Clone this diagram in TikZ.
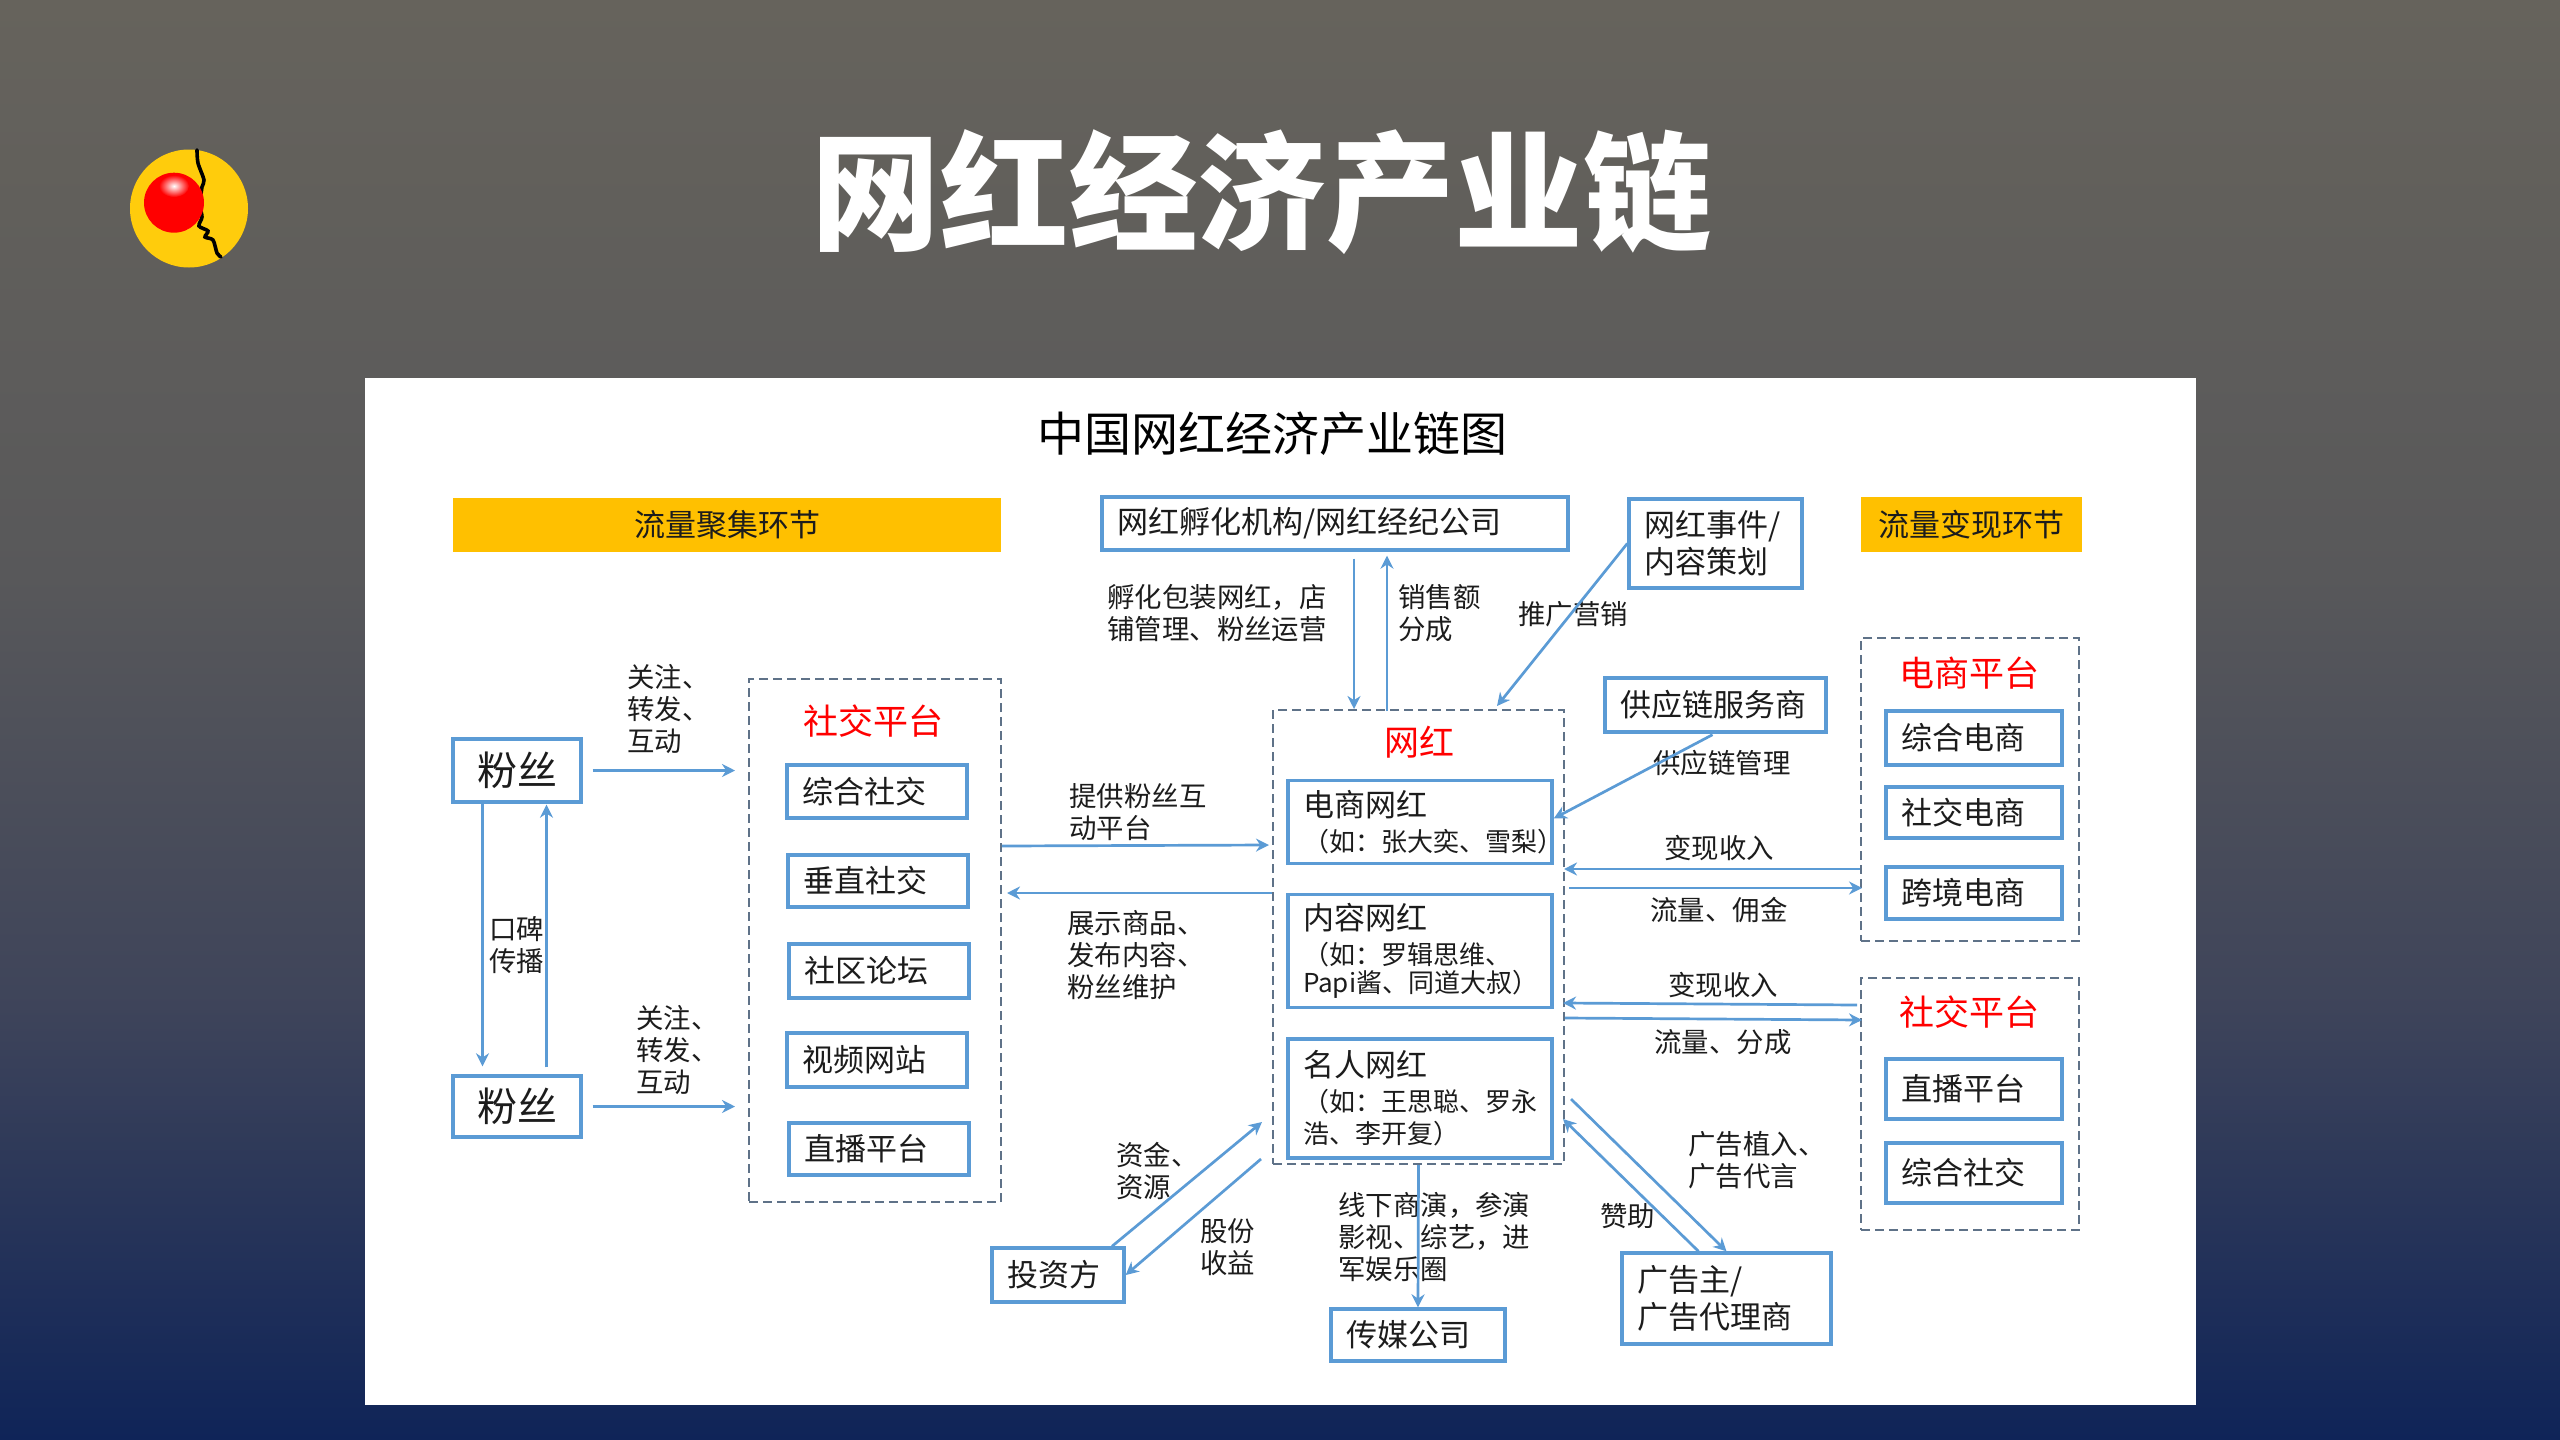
\documentclass[tikz,border=0pt]{standalone}
\usepackage{fontspec}
\setmainfont{Noto Sans CJK SC}
\newfontfamily\headfont{Noto Sans CJK SC Black}
\usetikzlibrary{arrows.meta,calc}
\definecolor{boxblue}{HTML}{5B9BD5}
\definecolor{dashgray}{HTML}{5F7288}
\definecolor{bandgold}{HTML}{FFC000}
\definecolor{inktext}{HTML}{1C1C1C}
\definecolor{bgtop}{HTML}{66635C}
\definecolor{bgmid}{HTML}{58585A}
\definecolor{bglow}{HTML}{3E445A}
\definecolor{bgend}{HTML}{0F2458}
\definecolor{logogold}{HTML}{FFCC0C}
\tikzset{
    box/.style 2 args = {draw=boxblue,line width=1.7pt,fill=white,align=left,inner xsep=7.5pt,inner ysep=0pt,
        text width=#1*0.5pt-15pt,minimum height=#2*0.5pt,text=inktext,font=\fontsize{15.5}{18.5}\selectfont},
    group/.style 2 args = {draw=dashgray,line width=1pt,dash pattern=on 4.5pt off 2.5pt,inner sep=0pt,
        minimum width=#1*0.5pt,minimum height=#2*0.5pt},
    band/.style 2 args = {fill=bandgold,inner sep=0pt,minimum width=#1*0.5pt,minimum height=#2*0.5pt,
        text=inktext,font=\fontsize{15.5}{18.5}\selectfont},
    grouptitle/.style = {text=red,inner sep=0pt,font=\fontsize{17.5}{20}\selectfont},
    note/.style = {anchor=west,align=left,inner sep=0pt,text=inktext,font=\fontsize{13.7}{16}\selectfont},
    link/.style = {draw=boxblue,line width=1.35pt,-{Stealth[length=6.5pt,width=6.5pt]}}
}
\newcommand{\subline}[1]{{\fontsize{13}{16}\selectfont #1}}
\begin{document}
\begin{tikzpicture}[x=0.5pt,y=-0.5pt]
            \useasboundingbox (0,0) rectangle (2560,1440);
            \shade [top color=bgtop,bottom color=bgmid] (0,0) rectangle (2560,577);
            \shade [top color=bgmid,bottom color=bglow] (0,576) rectangle (2560,1009);
            \shade [top color=bglow,bottom color=bgend] (0,1008) rectangle (2560,1440);
            \fill [white] (365,378) rectangle (2196,1405);
            \fill [logogold] (189,208.5) circle (59);
            \draw [line width=1.8pt,line cap=round] plot [smooth] coordinates {(197,150) (198,163) (204,180) (202,187) (200,205) (202,217) (199,226) (208,231) (205,237) (213,240) (217,253) (221,257)};
            \fill [red] (174,202.7) circle (30);
            \shade [inner color=white,outer color=red] (174,186) ellipse (15 and 11);
            \node (headline) at (1262,192) [text=white,inner sep=0pt,font=\fontsize{64.3}{70}\headfont] {网红经济产业链};
            \node (charttitle) at (1272,434) [text=black,inner sep=0pt,font=\fontsize{23.5}{28}\selectfont] {中国网红经济产业链图};
            \node (gatherband) at (727,525) [band={547.5}{54}] {流量聚集环节};
            \node (cashband) at (1971.5,524.5) [band={221}{55}] {流量变现环节};
            \node (fansa) at (517,770.5) [box={128}{63},align=center,font=\fontsize{20}{22}\selectfont] {粉丝};
            \node (fansb) at (517,1106.5) [box={128}{61},align=center,font=\fontsize{20}{22}\selectfont] {粉丝};
            \node (socialgrp) at (875,940.5) [group={252}{523}] {};
            \node (socialttl) at (873,721) [grouptitle] {社交平台};
            \foreach \nm/\x/\y/\h/\txt in {sa/877/791.5/53/综合社交,sb/878/881/52/垂直社交,sc/879/971/54/社区论坛,sd/877/1060/54/视频网站,se/879/1149/52/直播平台}
                \node (\nm) at (\x,\y) [box={180}{\h}] {\txt};
            \node (incub) at (1335,523.5) [box={466}{53}] {网红孵化机构/网红经纪公司};
            \node (event) at (1715.5,543.5) [box={173}{89}] {网红事件/\\内容策划};
            \node (supply) at (1715.5,705) [box={221}{54}] {供应链服务商};
            \node (hong) at (1418.5,937) [group={291}{454}] {};
            \node (hongttl) at (1419,742) [grouptitle] {网红};
            \node (ecomnet) at (1420,822) [box={264}{83}] {电商网红\\[-1pt]\subline{（如：张大奕、雪梨）}};
            \node (contentnet) at (1420,951) [box={264}{113}] {内容网红\\[-1pt]\subline{（如：罗辑思维、}\\[-4.5pt]\subline{Papi酱、同道大叔）}};
            \node (famenet) at (1420,1098.5) [box={264}{119}] {名人网红\\[-1pt]\subline{（如：王思聪、罗永}\\[-2.5pt]\subline{浩、李开复）}};
            \node (investor) at (1058,1275) [box={132}{54}] {投资方};
            \node (media) at (1418,1335) [box={174}{52}] {传媒公司};
            \node (adv) at (1726.5,1298.5) [box={209}{91}] {广告主/\\广告代理商};
            \node (ecomgrp) at (1970,789.5) [group={218}{303}] {};
            \node (ecomttl) at (1969,673) [grouptitle] {电商平台};
            \foreach \nm/\y/\h/\txt in {ea/738/54/综合电商,eb/812.5/51/社交电商,ec/893/52/跨境电商}
                \node (\nm) at (1974,\y) [box={176}{\h}] {\txt};
            \node (livegrp) at (1970,1104) [group={218}{252}] {};
            \node (livettl) at (1969,1012) [grouptitle] {社交平台};
            \foreach \nm/\y/\txt in {la/1089/直播平台,lb/1173/综合社交}
                \node (\nm) at (1974,\y) [box={176}{60}] {\txt};
            \node (na) at (627,709) [note] {关注、\\转发、\\互动};
            \node (nb) at (636,1050) [note] {关注、\\转发、\\互动};
            \node (nc) at (489,945) [note] {口碑\\传播};
            \node (nd) at (1069,812) [note] {提供粉丝互\\动平台};
            \node (ne) at (1067,955) [note] {展示商品、\\发布内容、\\粉丝维护};
            \node (nf) at (1107,613) [note] {孵化包装网红，店\\铺管理、粉丝运营};
            \node (ng) at (1398,613) [note] {销售额\\分成};
            \node (nh) at (1518,614) [note] {推广营销};
            \node (ni) at (1653,763) [note] {供应链管理};
            \node (nj) at (1664,848) [note] {变现收入};
            \node (nk) at (1650,910) [note] {流量、佣金};
            \node (nl) at (1668,985) [note] {变现收入};
            \node (nm) at (1654,1042) [note] {流量、分成};
            \node (nn) at (1688,1160) [note] {广告植入、\\广告代言};
            \node (no) at (1600,1216) [note] {赞助};
            \node (np) at (1116,1171) [note] {资金、\\资源};
            \node (nq) at (1200,1247) [note] {股份\\收益};
            \node (nr) at (1338,1237) [note] {线下商演，参演\\影视、综艺，进\\军娱乐圈};
            \draw [link,shorten <=5pt,shorten >=6.5pt] (fansa.east) -- (fansa.east -| socialgrp.west);
            \draw [link,shorten <=5pt,shorten >=6.5pt] (fansb.east) -- (fansb.east -| socialgrp.west);
            \draw [link] ($(fansa.south)+(-34.5,0)$) -- ($(fansb.north)+(-34.5,-8)$);
            \draw [link] ($(fansb.north)+(29.5,-7)$) -- ($(fansa.south)+(29.5,1)$);
            \draw [link] ($(socialgrp.east)+(0,-94.5)$) -- ($(hong.west)+(-3,-92)$);
            \draw [link] ($(hong.west)+(0,-44)$) -- ($(socialgrp.east)+(5,-47.5)$);
            \draw [link] ($(incub.south)+(19,7)$) -- ($(hong.north)+(-64.5,0)$);
            \draw [link] ($(hong.north)+(-31.5,2)$) -- ($(incub.south)+(52,4)$);
            \draw [link] (event.west) -- ($(hong.north)+(78.5,-3)$);
            \draw [link] ($(supply.south)+(-3,1)$) -- ($(ecomnet.east)+(0,-3.5)$);
            \draw [link] ($(ecomgrp.west)+(0,79.5)$) -- ($(hong.east)+(-1,-68)$);
            \draw [link] ($(hong.east)+(4,-49)$) -- ($(ecomgrp.west)+(2,98.5)$);
            \draw [link] ($(livegrp.west)+(-3,-99)$) -- ($(hong.east)+(-2,66)$);
            \draw [link] ($(hong.east)+(0,81)$) -- ($(livegrp.west)+(2,-84)$);
            \draw [link] ($(investor.north)+(54,0)$) -- ($(hong.south west)+(-10,-43)$);
            \draw [link] ($(hong.south west)+(-11,-6)$) -- (investor.east);
            \draw [link] (hong.south) -- (media.north);
            \draw [link] ($(hong.south east)+(6,-66)$) -- (adv.north);
            \draw [link] ($(adv.north)+(-28,0)$) -- ($(hong.south east)+(-2,-46)$);
        \end{tikzpicture}
\end{document}
